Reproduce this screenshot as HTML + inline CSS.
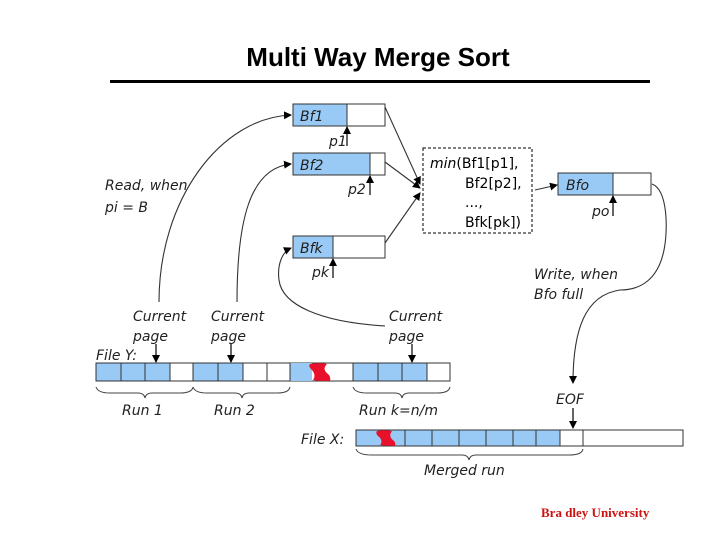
<!DOCTYPE html>
<html><head><meta charset="utf-8"><style>
html,body{margin:0;padding:0;background:#fff;}
svg{display:block}
text{font-family:"DejaVu Sans","Liberation Sans",sans-serif;}
.i{font-style:italic;font-size:14px;fill:#222}
</style></head><body>
<svg width="720" height="540" viewBox="0 0 720 540" xmlns="http://www.w3.org/2000/svg">
<defs>
<marker id="a" markerWidth="8" markerHeight="8" refX="7" refY="4" orient="auto" markerUnits="userSpaceOnUse">
<path d="M0,0 L8,4 L0,8 z" fill="#000"/></marker>
</defs>
<text x="378" y="66" text-anchor="middle" style="font-family:'Liberation Sans',sans-serif;font-weight:bold;font-size:26px">Multi Way Merge Sort</text>
<rect x="110" y="80" width="540" height="3" fill="#000"/>

<g stroke="#333" stroke-width="1">
<rect x="293" y="104" width="92" height="22" fill="#fff"/><rect x="293" y="104" width="54" height="22" fill="#99c9f5"/>
<rect x="293" y="153" width="92" height="22" fill="#fff"/><rect x="293" y="153" width="77" height="22" fill="#99c9f5"/>
<rect x="293" y="236" width="92" height="22" fill="#fff"/><rect x="293" y="236" width="40" height="22" fill="#99c9f5"/>
<rect x="558" y="173" width="93" height="22" fill="#fff"/><rect x="558" y="173" width="55" height="22" fill="#99c9f5"/>
</g>
<text class="i" x="300" y="121">Bf1</text>
<text class="i" x="300" y="170">Bf2</text>
<text class="i" x="300" y="253">Bfk</text>
<text class="i" x="566" y="190">Bfo</text>

<g stroke="#000" stroke-width="1.2" marker-end="url(#a)">
<line x1="347" y1="146" x2="347" y2="127"/>
<line x1="370" y1="195" x2="370" y2="176"/>
<line x1="333" y1="278" x2="333" y2="259"/>
<line x1="613" y1="216" x2="613" y2="196"/>
</g>
<text class="i" x="329" y="146">p1</text>
<text class="i" x="348" y="194">p2</text>
<text class="i" x="312" y="277">pk</text>
<text class="i" x="592" y="216">po</text>

<rect x="423" y="148" width="109" height="85" fill="none" stroke="#000" stroke-dasharray="3,2"/>
<text x="430" y="168" style="font-size:14px"><tspan font-style="italic">min</tspan>(Bf1[p1],</text>
<text x="465" y="188" style="font-size:14px">Bf2[p2],</text>
<text x="465" y="207" style="font-size:14px">...,</text>
<text x="465" y="227" style="font-size:14px">Bfk[pk])</text>

<g stroke="#333" stroke-width="1.1" fill="none">
<line x1="385" y1="107" x2="420" y2="184" marker-end="url(#a)"/>
<line x1="385" y1="162" x2="420" y2="188" marker-end="url(#a)"/>
<line x1="385" y1="243" x2="420" y2="193" marker-end="url(#a)"/>
<line x1="535" y1="190" x2="557" y2="185" marker-end="url(#a)"/>
<path d="M159,302 C159,200 220,118 291,115" marker-end="url(#a)"/>
<path d="M237,302 C237,220 250,168 291,164" marker-end="url(#a)"/>
<path d="M385,326 C320,322 282,305 279,280 C277,265 282,252 291,248" marker-end="url(#a)"/>
<path d="M652,184 C668,190 668,230 664,250 C658,280 640,290 620,290 C585,295 573,330 573,383" marker-end="url(#a)"/>
</g>

<text class="i" x="105" y="190">Read, when</text>
<text class="i" x="105" y="212">pi = B</text>
<text class="i" x="534" y="279">Write, when</text>
<text class="i" x="534" y="299">Bfo full</text>

<text class="i" x="133" y="321">Current</text><text class="i" x="133" y="341">page</text>
<text class="i" x="211" y="321">Current</text><text class="i" x="211" y="341">page</text>
<text class="i" x="389" y="321">Current</text><text class="i" x="389" y="341">page</text>
<g stroke="#000" stroke-width="1.2" marker-end="url(#a)">
<line x1="156" y1="344" x2="156" y2="362"/>
<line x1="231" y1="344" x2="231" y2="362"/>
<line x1="412" y1="344" x2="412" y2="362"/>
<line x1="573" y1="408" x2="573" y2="428"/>
</g>

<text class="i" x="96" y="360">File Y:</text>
<g stroke="#333" stroke-width="1">
<rect x="96" y="363" width="354" height="18" fill="#fff"/>
<rect x="96" y="363" width="74" height="18" fill="#99c9f5"/>
<rect x="193" y="363" width="50" height="18" fill="#99c9f5"/>
<rect x="290" y="363" width="22" height="18" fill="#99c9f5" stroke="none"/>
<rect x="353" y="363" width="74" height="18" fill="#99c9f5"/>
<line x1="121" y1="363" x2="121" y2="381"/><line x1="145" y1="363" x2="145" y2="381"/>
<line x1="193" y1="363" x2="193" y2="381"/><line x1="218" y1="363" x2="218" y2="381"/>
<line x1="267" y1="363" x2="267" y2="381"/><line x1="290" y1="363" x2="290" y2="381"/>
<line x1="353" y1="363" x2="353" y2="381"/><line x1="378" y1="363" x2="378" y2="381"/>
<line x1="402" y1="363" x2="402" y2="381"/>
</g>
<path d="M310,364 C316,363 322,363 327,364 C323,368 324,371 329,375 C331,378 330,381 330,381 C324,381 318,381 313,380 C316,376 314,372 311,369 C309,367 309,365 310,364 Z" fill="#e8102a"/>

<g stroke="#444" fill="none" stroke-width="1">
<path d="M96,387 Q98,393 110,393 L138,393 Q144,393 145,398 Q146,393 152,393 L180,393 Q192,393 193,387"/>
<path d="M193,387 Q195,393 207,393 L235,393 Q241,393 242,398 Q243,393 249,393 L277,393 Q289,393 290,387"/>
<path d="M353,387 Q355,393 367,393 L395,393 Q401,393 402,398 Q403,393 409,393 L437,393 Q449,393 450,387"/>
<path d="M356,449 Q358,455 372,455 L462,455 Q468,455 469,460 Q470,455 476,455 L569,455 Q582,455 583,449"/>
</g>
<text class="i" x="122" y="415">Run 1</text>
<text class="i" x="214" y="415">Run 2</text>
<text class="i" x="359" y="415">Run k=n/m</text>
<text class="i" x="556" y="404">EOF</text>
<text class="i" x="301" y="444">File X:</text>
<text class="i" x="424" y="475">Merged run</text>

<g stroke="#333" stroke-width="1">
<rect x="356" y="430" width="327" height="16" fill="#fff"/>
<rect x="356" y="430" width="204" height="16" fill="#99c9f5"/>
<line x1="405" y1="430" x2="405" y2="446"/><line x1="432" y1="430" x2="432" y2="446"/>
<line x1="459" y1="430" x2="459" y2="446"/><line x1="486" y1="430" x2="486" y2="446"/>
<line x1="513" y1="430" x2="513" y2="446"/><line x1="536" y1="430" x2="536" y2="446"/>
<line x1="583" y1="430" x2="583" y2="446"/>
</g>
<path d="M377,431 C382,430 387,430 392,431 C389,435 390,438 394,441 C396,443 395,446 395,446 C390,446 385,446 380,445 C383,442 381,438 378,436 C376,434 376,432 377,431 Z" fill="#e8102a"/>

<text x="541" y="517" style="font-family:'Liberation Serif',serif;font-weight:bold;font-size:13px;fill:#cc1111">Bra dley University</text>
</svg>
</body></html>
